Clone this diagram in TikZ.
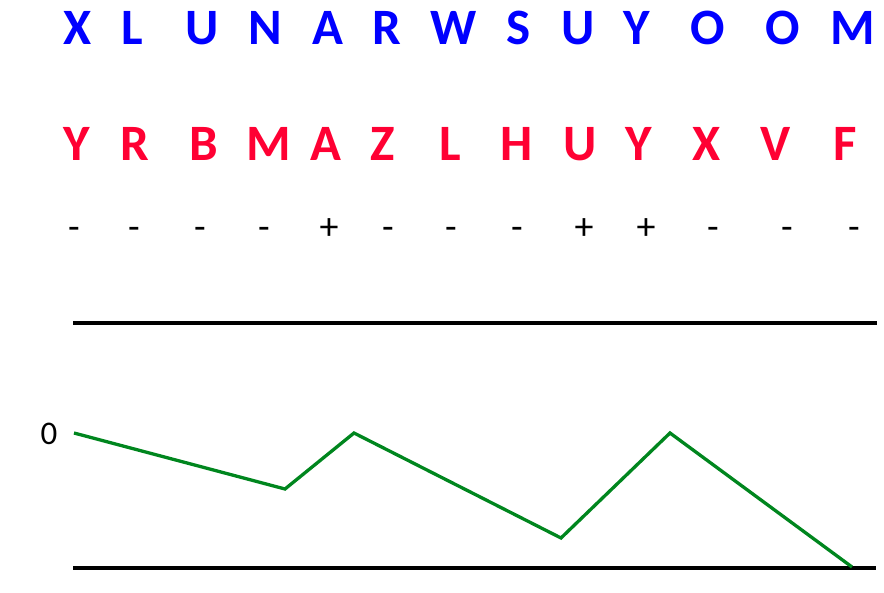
\documentclass[tikz,border=0pt]{standalone}
\usepackage{fontspec}
\setmainfont{Carlito}
\usetikzlibrary{positioning}
\definecolor{topcolor}{HTML}{0000FF}
\definecolor{botcolor}{HTML}{FF0033}
\definecolor{pathcolor}{HTML}{00861E}

\begin{document}
\begin{tikzpicture}[
    x=1pt, y=-1pt,
    letter/.style={anchor=base, inner sep=0pt, font=\fontsize{51}{51}\selectfont\bfseries},
    toprow/.style={letter, text=topcolor},
    botrow/.style={letter, text=botcolor},
    sign/.style={anchor=base, inner sep=0pt, font=\fontsize{38}{38}\selectfont},
    rule/.style={line width=4pt},
    walk/.style={pathcolor, line width=3.3pt, line join=miter},
  ]
    \useasboundingbox (0,0) rectangle (884,593);

    % first sequence
    \foreach \i/\x/\c in {1/78/X, 2/132/L, 3/202/U, 4/265/N, 5/328/A, 6/387/R, 7/454/W,
        8/519/S, 9/578/U, 10/637/Y, 11/708/O, 12/783/O, 13/853/M}
      \node[toprow] (t\i) at (\x,45) {\c};

    % second sequence
    \foreach \i/\x/\c in {1/77/Y, 2/135/R, 3/204/B, 4/269/M, 5/326/A, 6/383/Z, 7/450/L,
        8/517/H, 9/580/U, 10/639/Y, 11/707/X, 12/776/V, 13/845/F}
      \node[botrow] (b\i) at (\x,161) {\c};

    % match / mismatch
    \foreach \i/\x/\c in {1/74/-, 2/134/-, 3/200/-, 4/264/-, 5/329/+, 6/388/-, 7/451/-,
        8/517/-, 9/584/+, 10/646/+, 11/713/-, 12/787/-, 13/854/-}
      \node[sign] (s\i) at (\x,240) {\c};

    \coordinate (ua) at (73,323);
    \coordinate (ub) at (877,323);
    \coordinate (la) at (73,568);
    \coordinate (lb) at (876,568);
    \draw[rule] (ua) -- (ub);
    \draw[rule] (la) -- (lb);

    \node[sign, font=\fontsize{33}{33}\selectfont] (zero) at (49,445) {0};

    \coordinate (p0) at (74,433);
    \coordinate (p1) at (285,489);
    \coordinate (p2) at (354,433);
    \coordinate (p3) at (561,538);
    \coordinate (p4) at (670,433);
    \coordinate (p5) at (852,567);
    \draw[walk] (p0) -- (p1) -- (p2) -- (p3) -- (p4) -- (p5);
  \end{tikzpicture}
\end{document}
